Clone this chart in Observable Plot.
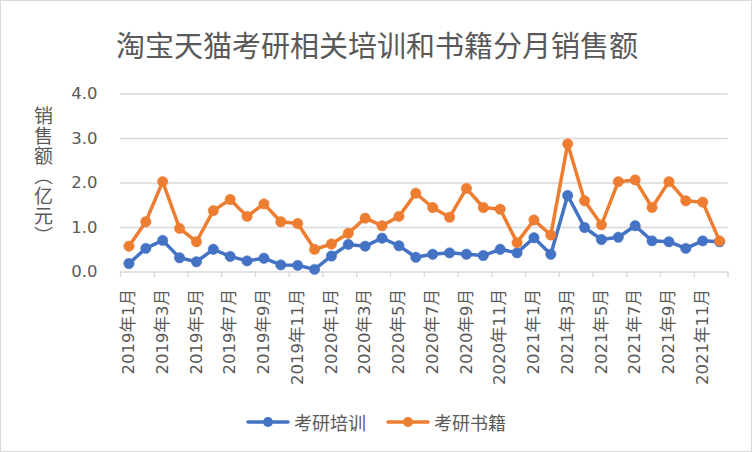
<!DOCTYPE html>
<html>
<head>
<meta charset="utf-8">
<script src="https://cdn.jsdelivr.net/npm/d3@7"></script>
<script src="https://cdn.jsdelivr.net/npm/@observablehq/plot@0.6"></script>
<style>
  body { margin: 0; background: #fff; }
  #chart { position: relative; width: 752px; height: 452px; box-sizing: border-box; border: 1px solid #d9d9d9; background: #fff; overflow: hidden; color: #595959; }
  #title { position: absolute; left: 0; top: 28px; width: 752px; text-align: center; font-family: "Noto Sans CJK SC", sans-serif; font-size: 29px; line-height: 30px; color: #595959; white-space: nowrap; }
  #plot { position: absolute; left: 0; top: 75px; }
  #ytitle { position: absolute; left: 32px; top: 105px; writing-mode: vertical-rl; font-family: "Noto Sans CJK SC", sans-serif; font-size: 19px; line-height: 21px; color: #595959; letter-spacing: 1px; }
  #legend { position: absolute; left: 0; top: 408px; width: 750px; display: flex; justify-content: center; align-items: center; font-family: "Noto Sans CJK SC", sans-serif; font-size: 18px; color: #595959; }
  .item { display: flex; align-items: center; margin: 0 10px; }
  .item svg { margin-right: 4px; }
</style>
</head>
<body>
<div id="chart">
  <div id="title">淘宝天猫考研相关培训和书籍分月销售额</div>
  <div id="plot"></div>
  <div id="ytitle">销售额（亿元）</div>
  <div id="legend"></div>
</div>
<script>
const months = [
  "2019年1月","2019年2月","2019年3月","2019年4月","2019年5月","2019年6月",
  "2019年7月","2019年8月","2019年9月","2019年10月","2019年11月","2019年12月",
  "2020年1月","2020年2月","2020年3月","2020年4月","2020年5月","2020年6月",
  "2020年7月","2020年8月","2020年9月","2020年10月","2020年11月","2020年12月",
  "2021年1月","2021年2月","2021年3月","2021年4月","2021年5月","2021年6月",
  "2021年7月","2021年8月","2021年9月","2021年10月","2021年11月","2021年12月"
];
const training = [
  0.19, 0.53, 0.71, 0.32, 0.23, 0.51, 0.35, 0.25, 0.31, 0.16, 0.15, 0.06,
  0.36, 0.62, 0.58, 0.76, 0.59, 0.33, 0.40, 0.43, 0.40, 0.37, 0.51, 0.43,
  0.77, 0.40, 1.72, 1.00, 0.73, 0.78, 1.04, 0.70, 0.68, 0.53, 0.70, 0.68
];
const books = [
  0.58, 1.13, 2.03, 0.98, 0.68, 1.38, 1.63, 1.25, 1.53, 1.13, 1.09, 0.51,
  0.63, 0.87, 1.21, 1.04, 1.25, 1.77, 1.45, 1.23, 1.88, 1.45, 1.41, 0.66,
  1.17, 0.83, 2.88, 1.60, 1.06, 2.03, 2.07, 1.45, 2.03, 1.60, 1.57, 0.70
];
const seriesNames = ["考研培训", "考研书籍"];
const seriesColors = ["#4472C4", "#ED7D31"];
const yTicks = [0, 1, 2, 3, 4];

const data = months.flatMap((m, i) => [
  {i, month: m, v: training[i], s: seriesNames[0]},
  {i, month: m, v: books[i], s: seriesNames[1]}
]);
const labelIdx = months.map((m, i) => i).filter(i => i % 2 === 0);
const boundaries = d3.range(-0.5, months.length, 2).concat([months.length - 0.5]);

const font = '"DejaVu Sans", "Noto Sans CJK SC", sans-serif';
const plot = Plot.plot({
  width: 750,
  height: 325,
  marginLeft: 119,
  marginRight: 23.5,
  marginTop: 17.5,
  marginBottom: 129.5,
  style: {fontFamily: font, fontSize: "16px", color: "#595959", background: "transparent", overflow: "visible"},
  x: {type: "linear", domain: [-0.5, months.length - 0.5]},
  y: {domain: [0, 4]},
  color: {domain: seriesNames, range: seriesColors},
  marks: [
    Plot.ruleY(yTicks, {stroke: "#d9d9d9", strokeWidth: 1.3}),
    Plot.axisY({ticks: yTicks, tickFormat: d => d.toFixed(1), tickSize: 0, tickPadding: 23, fontSize: 16.5, fill: "#595959", label: null}),
    Plot.axisX({ticks: boundaries, tickSize: 5.5, tickFormat: () => "", stroke: "#d9d9d9", strokeWidth: 1.3, label: null}),
    Plot.axisX({ticks: labelIdx, tickSize: 0, tickRotate: -90, tickPadding: 17, tickFormat: i => months[i], fontSize: 16.5, fill: "#595959", label: null}),
    Plot.line(data, {x: "i", y: "v", z: "s", stroke: "s", strokeWidth: 3.5, strokeLinejoin: "round", strokeLinecap: "round"}),
    Plot.dot(data, {x: "i", y: "v", fill: "s", r: 5.2, stroke: "s", strokeWidth: 0.5})
  ]
});
document.getElementById("plot").appendChild(plot);

const legend = document.getElementById("legend");
seriesNames.forEach((name, k) => {
  const item = document.createElement("div");
  item.className = "item";
  item.innerHTML = `<svg width="44" height="14"><line x1="2" y1="7" x2="42" y2="7" stroke="${seriesColors[k]}" stroke-width="3.5" stroke-linecap="round"/><circle cx="22" cy="7" r="5" fill="${seriesColors[k]}"/></svg><span>${name}</span>`;
  legend.appendChild(item);
});
</script>
</body>
</html>
